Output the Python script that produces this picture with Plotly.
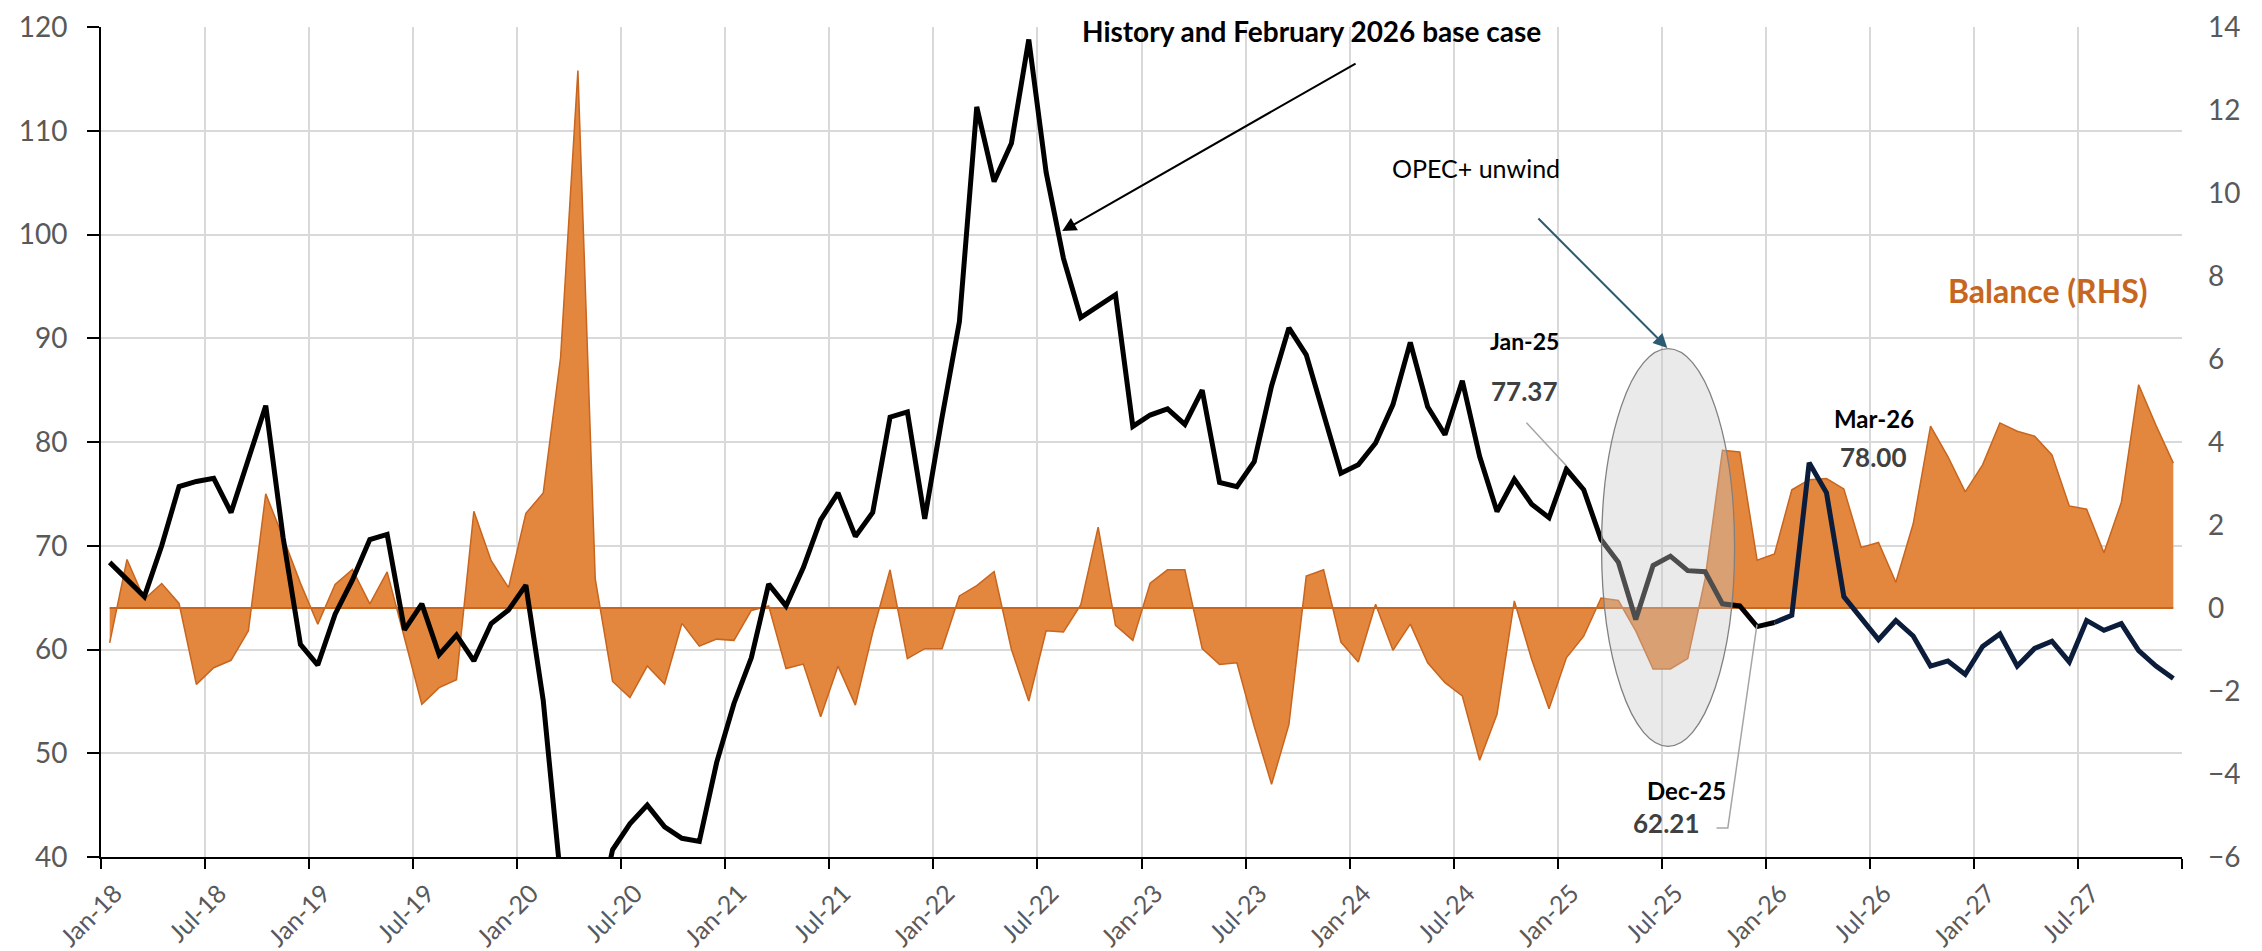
import pandas as pd
import plotly.graph_objects as go

# ---------------- data ----------------
months = list(pd.date_range("2018-01-01", periods=120, freq="MS").strftime("%b-%y"))

price = [
    68.4, 66.7, 65.1, 70.0, 75.7, 76.2, 76.5, 73.2, 78.3, 83.5, 70.8, 60.5,   # 2018
    58.5, 63.4, 66.7, 70.6, 71.1, 61.9, 64.4, 59.5, 61.4, 58.9, 62.5, 63.8,   # 2019
    66.2, 55.1, 38.0, 25.0, 33.0, 40.7, 43.2, 45.0, 42.9, 41.8, 41.5, 49.1,   # 2020
    54.8, 59.2, 66.3, 64.2, 67.9, 72.5, 75.1, 70.9, 73.2, 82.4, 82.9, 72.6,   # 2021
    82.4, 91.6, 112.3, 105.1, 108.8, 118.8, 106.0, 97.7, 92.0, 93.1, 94.2, 81.5,  # 2022
    82.6, 83.2, 81.7, 85.0, 76.1, 75.7, 78.1, 85.4, 91.0, 88.4, 82.8, 77.0,   # 2023
    77.8, 79.9, 83.6, 89.6, 83.4, 80.7, 85.9, 78.6, 73.3, 76.4, 74.0, 72.7,   # 2024
    77.37, 75.4, 70.6, 68.4, 62.9, 68.1, 69.0, 67.6, 67.5, 64.4, 64.2, 62.21, # 2025
    62.6, 63.3, 78.0, 75.1, 65.1, 63.0, 60.95, 62.8, 61.3, 58.4, 58.9, 57.6,  # 2026
    60.3, 61.5, 58.4, 60.1, 60.8, 58.8, 62.8, 61.85, 62.5, 59.9, 58.4, 57.2,  # 2027
]
forecast_start = 96  # Jan-26: February 2026 base case

balance = [
    -0.84, 1.17, 0.21, 0.59, 0.11, -1.84, -1.44, -1.26, -0.55, 2.75, 1.70, 0.60,
    -0.39, 0.57, 0.93, 0.10, 0.87, -0.76, -2.32, -1.92, -1.73, 2.33, 1.14, 0.49,
    2.28, 2.77, 6.03, 12.95, 0.70, -1.77, -2.16, -1.40, -1.83, -0.37, -0.92, -0.75,
    -0.78, -0.06, 0.05, -1.46, -1.35, -2.62, -1.40, -2.34, -0.59, 0.92, -1.22, -0.98,
    -0.98, 0.29, 0.54, 0.88, -1.00, -2.24, -0.55, -0.58, 0.08, 1.95, -0.42, -0.78,
    0.60, 0.92, 0.92, -0.98, -1.36, -1.32, -2.85, -4.25, -2.81, 0.77, 0.92, -0.82,
    -1.30, 0.09, -1.02, -0.39, -1.32, -1.80, -2.12, -3.67, -2.56, 0.17, -1.24, -2.43,
    -1.20, -0.68, 0.24, 0.18, -0.55, -1.47, -1.47, -1.22, 0.70, 3.80, 3.76, 1.15,
    1.30, 2.85, 3.09, 3.12, 2.87, 1.46, 1.58, 0.62, 2.03, 4.38, 3.65, 2.80,
    3.45, 4.46, 4.26, 4.14, 3.69, 2.46, 2.38, 1.33, 2.54, 5.38, 4.40, 3.49,
]

tick_step = 6
tick_labels = months[::tick_step]

# ---------------- figure ----------------
FONT = "Lato, 'Open Sans', sans-serif"
GREY_TXT = "#595959"
ORANGE_FILL = "#E3873F"
ORANGE_LINE = "#C8651E"
NAVY = "#0C1D3B"

idx = list(range(len(months)))

fig = go.Figure()

# balance area (base axis, right side)
fig.add_trace(go.Scatter(
    x=idx, y=balance, yaxis="y", mode="lines",
    line=dict(color=ORANGE_LINE, width=1.5),
    fill="tozeroy", fillcolor=ORANGE_FILL, hoverinfo="skip", showlegend=False))
fig.add_trace(go.Scatter(
    x=[idx[0], idx[-1]], y=[0, 0], yaxis="y", mode="lines",
    line=dict(color=ORANGE_LINE, width=2.2), hoverinfo="skip", showlegend=False))

# price line (overlaying axis, left side)
fig.add_trace(go.Scatter(
    x=idx[:forecast_start + 1], y=price[:forecast_start + 1], yaxis="y2", mode="lines",
    line=dict(color="#000000", width=5), showlegend=False))
fig.add_trace(go.Scatter(
    x=idx[forecast_start:], y=price[forecast_start:], yaxis="y2", mode="lines",
    line=dict(color=NAVY, width=5), showlegend=False))

grid_vals = [i - 0.5 for i in idx[::tick_step]] + [idx[-1] + 0.5]
grid_text = tick_labels + [""]

fig.update_layout(
    width=2262, height=951,
    margin=dict(l=93, r=88, t=19, b=102, autoexpand=False),
    paper_bgcolor="white", plot_bgcolor="white",
    font=dict(family=FONT, color=GREY_TXT, size=27),
    showlegend=False,
    xaxis=dict(
        range=[-0.5, idx[-1] + 0.5], tickmode="array",
        tickvals=grid_vals, ticktext=grid_text, tickangle=-45,
        ticklabelshift=14, ticklabelstandoff=0,
        showgrid=True, gridcolor="#D9D9D9", gridwidth=1.5,
        showline=True, linecolor="#000000", linewidth=2,
        ticks="outside", ticklen=10, tickwidth=2, tickcolor="#000000",
        tickfont=dict(size=25, color=GREY_TXT, family=FONT),
        zeroline=False, automargin=False),
    yaxis=dict(
        range=[-6, 14], dtick=2, side="right",
        showgrid=False, zeroline=False, showline=False, ticks="",
        ticklabelstandoff=25,
        tickfont=dict(size=28, color=GREY_TXT, family=FONT), automargin=False),
    yaxis2=dict(
        range=[40, 120], dtick=10, side="left", overlaying="y",
        showgrid=True, gridcolor="#D9D9D9", gridwidth=1.5, zeroline=False,
        showline=True, linecolor="#000000", linewidth=2,
        ticks="outside", ticklen=12, tickwidth=2, tickcolor="#000000",
        ticklabelstandoff=14,
        tickfont=dict(size=28, color=GREY_TXT, family=FONT), automargin=False),
)

# OPEC+ unwind ellipse (semi-transparent, above the data)
fig.add_shape(type="circle", xref="x", yref="y2",
              x0=86.03, x1=93.7, y0=50.67, y1=89.0,
              fillcolor="rgba(200,200,200,0.385)",
              line=dict(color="#808080", width=1.3), layer="above")

# leader lines
fig.add_shape(type="line", xref="x", yref="y2", x0=81.7, y0=81.86, x1=84.0, y1=77.72,
              line=dict(color="#A6A6A6", width=1.5), layer="above")
fig.add_shape(type="path", xref="x", yref="y2",
              path="M 92.66 42.8 L 93.31 42.8 L 94.99 62.4",
              line=dict(color="#A6A6A6", width=1.5), layer="above")

# arrows
fig.add_annotation(x=54.93, y=100.33, ax=71.93, ay=116.56, xref="x", yref="y2",
                   axref="x", ayref="y2", text="", showarrow=True,
                   arrowhead=2, arrowsize=1.4, arrowwidth=2, arrowcolor="#000000", standoff=0)
fig.add_annotation(x=89.82, y=89.07, ax=82.3, ay=101.68, xref="x", yref="y2",
                   axref="x", ayref="y2", text="", showarrow=True,
                   arrowhead=2, arrowsize=1.4, arrowwidth=2, arrowcolor="#2B5A75", standoff=0)

def label(x, y, text, size, color, bold=True):
    t = f"<b>{text}</b>" if bold else text
    fig.add_annotation(x=x, y=y, xref="x", yref="y2", text=t, showarrow=False,
                       font=dict(family=FONT, size=size, color=color),
                       xanchor="center", yanchor="middle")

label(69.3, 119.6, "History and February 2026 base case", 28, "#000000")
label(78.8, 106.4, "OPEC+ unwind", 25, "#000000", bold=False)
label(81.6, 89.7, months[84], 23, "#000000")
label(81.6, 84.9, f"{price[84]:.2f}", 26, "#404040")
label(101.75, 82.3, months[98], 24, "#000000")
label(101.7, 78.6, f"{price[98]:.2f}", 26, "#404040")
label(90.9, 46.4, months[95], 24, "#000000")
label(89.8, 43.3, f"{price[95]:.2f}", 26, "#404040")
label(111.8, 94.6, "Balance (RHS)", 32, "#C6661F")

fig.write_html("out.html")
